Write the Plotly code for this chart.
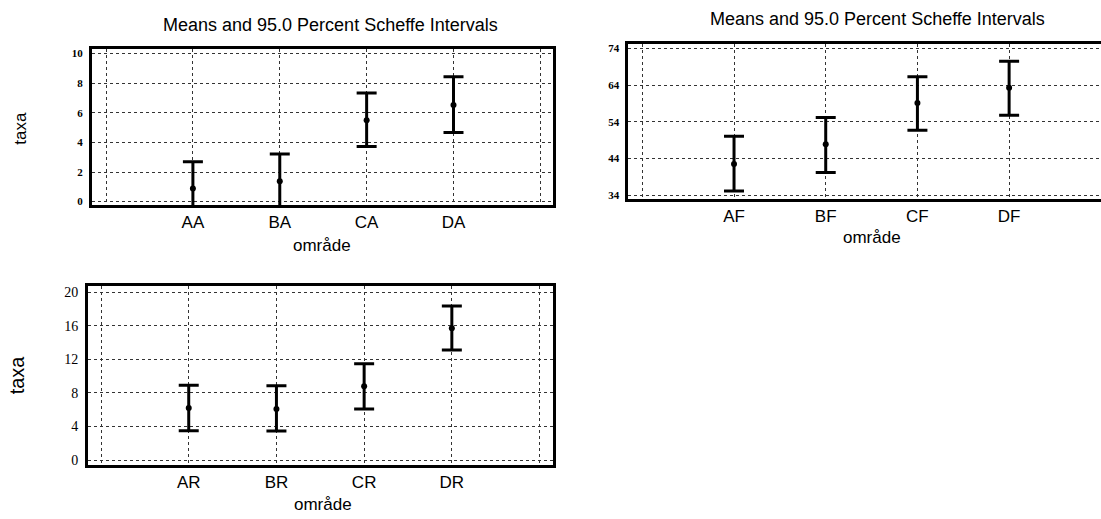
import plotly.graph_objects as go

# ---------------- data ----------------
cat_a = ["AA", "BA", "CA", "DA"]
mean_a = [0.89, 1.38, 5.50, 6.53]
lower_a = [-0.92, -0.46, 3.72, 4.67]
upper_a = [2.70, 3.22, 7.34, 8.43]

cat_f = ["AF", "BF", "CF", "DF"]
mean_f = [42.5, 47.9, 59.1, 63.3]
lower_f = [35.2, 40.2, 51.7, 55.8]
upper_f = [50.1, 55.2, 66.3, 70.5]

cat_r = ["AR", "BR", "CR", "DR"]
mean_r = [6.20, 6.10, 8.80, 15.72]
lower_r = [3.48, 3.45, 6.10, 13.13]
upper_r = [8.91, 8.85, 11.50, 18.36]

yticks_a = [0, 2, 4, 6, 8, 10]
yticks_f = [34, 44, 54, 64, 74]
yticks_r = [0, 4, 8, 12, 16, 20]

title_text = "Means and 95.0 Percent Scheffe Intervals"
xlabel = "område"
ylabel = "taxa"

W, H = 1101, 519


def px(x):
    return x / W


def py(y):
    return 1 - y / H


fig = go.Figure()


def add_panel(cats, means, lows, ups, xa, ya):
    xs = [i + 1 for i in range(len(cats))]
    fig.add_trace(go.Scatter(
        x=xs, y=means, mode="markers",
        marker=dict(color="black", size=6),
        error_y=dict(type="data", symmetric=False,
                     array=[u - m for u, m in zip(ups, means)],
                     arrayminus=[m - l for m, l in zip(means, lows)],
                     color="black", thickness=3, width=10),
        xaxis=xa, yaxis=ya, showlegend=False, hoverinfo="skip",
    ))


add_panel(cat_a, mean_a, lower_a, upper_a, "x", "y")
add_panel(cat_f, mean_f, lower_f, upper_f, "x2", "y2")
add_panel(cat_r, mean_r, lower_r, upper_r, "x3", "y3")

sans = "Liberation Sans, Arial, sans-serif"
serif = "Liberation Serif, Times New Roman, serif"
grid = dict(showgrid=True, gridcolor="#333333", griddash="dot", gridwidth=1,
            zeroline=False, showline=True, linecolor="black", linewidth=2.5,
            ticks="")


def xax(cats, dom, rng, anchor, mirror=True):
    return dict(domain=dom, range=rng, anchor=anchor, tickmode="array",
                tickvals=list(range(len(cats) + 2)),
                ticktext=[""] + cats + [""],
                tickfont=dict(family=sans, size=17, color="black"),
                mirror=mirror, ticklabelstandoff=0, **grid)


def yax(ticks, dom, rng, anchor, size, bold, mirror=True):
    return dict(domain=dom, range=rng, anchor=anchor, tickmode="array", tickvals=ticks,
                ticktext=[("<b>%d</b>" % t) if bold else str(t) for t in ticks],
                tickfont=dict(family=serif, size=size, color="black"),
                mirror=mirror, ticklabelstandoff=4, **grid)


fig.update_layout(
    width=W, height=H, margin=dict(l=0, r=0, t=0, b=0),
    paper_bgcolor="white", plot_bgcolor="white",
    xaxis=xax(cat_a, [px(91.7), px(553.4)], [-0.165, 5.15], "y"),
    yaxis=yax(yticks_a, [py(205), py(47.5)], [-0.23, 10.31], "x", 11, True),
    xaxis2=xax(cat_f, [px(628.3), 1.0], [-0.153, 5.002], "y2"),
    yaxis2=yax(yticks_f, [py(199.2), py(42.5)], [32.92, 75.16], "x2", 11, True, mirror=False),
    xaxis3=xax(cat_r, [px(87.7), px(552.7)], [-0.152, 5.15], "y3"),
    yaxis3=yax(yticks_r, [py(467.5), py(286.5)], [-0.59, 20.79], "x3", 14, False),
)

ann = [
    dict(text=title_text, x=px(330), y=py(23), size=18),
    dict(text=title_text, x=px(877), y=py(17), size=18),
    dict(text=xlabel, x=px(322), y=py(246), size=17),
    dict(text=xlabel, x=px(872), y=py(238), size=17),
    dict(text=xlabel, x=px(323), y=py(507), size=17),
    dict(text=ylabel, x=px(21), y=py(128), size=17, angle=-90),
    dict(text=ylabel, x=px(17), y=py(377), size=20, angle=-90),
]
for a in ann:
    fig.add_annotation(text=a["text"], x=a["x"], y=a["y"], xref="paper", yref="paper",
                       xanchor="center", yanchor="middle", showarrow=False,
                       textangle=a.get("angle", 0),
                       font=dict(family=sans, size=a["size"], color="black"))

fig.write_html("out.html", config={"displayModeBar": False},
               post_script="document.body.style.margin='0';")
